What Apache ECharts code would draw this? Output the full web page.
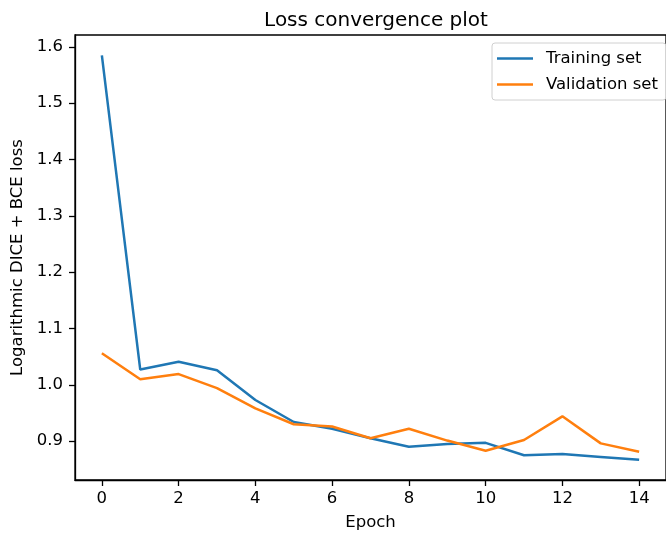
<!DOCTYPE html>
<html>
<head>
<meta charset="utf-8">
<script src="https://cdn.jsdelivr.net/npm/echarts@6/dist/echarts.min.js"></script>
<style>
  html, body { margin: 0; padding: 0; background: #fff; }
  #main { width: 666px; height: 536px; }
</style>
</head>
<body>
<div id="main"></div>
<script>
// epochs and losses
var epochs = [0, 1, 2, 3, 4, 5, 6, 7, 8, 9, 10, 11, 12, 13, 14];
var trainLoss = [1.585, 1.027, 1.041, 1.026, 0.973, 0.934, 0.922, 0.905, 0.890, 0.895, 0.897, 0.875, 0.877, 0.872, 0.867];
var valLoss = [1.056, 1.010, 1.019, 0.994, 0.958, 0.930, 0.926, 0.905, 0.922, 0.901, 0.883, 0.902, 0.944, 0.896, 0.881];
var xTicks = [0, 2, 4, 6, 8, 10, 12, 14];
var yTicks = [0.9, 1.0, 1.1, 1.2, 1.3, 1.4, 1.5, 1.6];

var font = 'DejaVu Sans';
var chart = echarts.init(document.getElementById('main'), null, { renderer: 'canvas' });

function pairs(ys) {
  var out = [];
  for (var i = 0; i < epochs.length; i++) {
    out.push([epochs[i], ys[i]]);
  }
  return out;
}

var option = {
  animation: false,
  backgroundColor: '#fff',
  textStyle: { fontFamily: font },
  title: {
    text: 'Loss convergence plot',
    left: 371,
    textAlign: 'center',
    top: 6,
    textStyle: { fontFamily: font, fontSize: 20, fontWeight: 'normal', color: '#000' }
  },
  legend: {
    orient: 'vertical',
    left: 492,
    top: 43,
    padding: [7, 8, 7, 5],
    itemGap: 9,
    itemWidth: 36,
    itemHeight: 2.5,
    icon: 'rect',
    borderColor: '#d0d0d0',
    borderWidth: 1,
    borderRadius: 3,
    backgroundColor: 'rgba(255,255,255,0.8)',
    textStyle: { fontFamily: font, fontSize: 16.5, color: '#000', padding: [0, 0, 0, 8] },
    data: ['Training set', 'Validation set']
  },
  grid: {
    left: 75,
    top: 35,
    width: 599,
    height: 446,
    show: true,
    borderColor: '#000',
    borderWidth: 1.3,
    containLabel: false
  },
  xAxis: {
    type: 'value',
    min: -0.7,
    max: 14.7,
    name: 'Epoch',
    nameLocation: 'middle',
    nameGap: 34,
    nameTextStyle: { fontFamily: font, fontSize: 16.5, color: '#000' },
    axisLine: { show: true, onZero: false, lineStyle: { color: '#000', width: 1.3 } },
    axisTick: { show: true, length: 6, customValues: xTicks, lineStyle: { color: '#000', width: 1.3 } },
    axisLabel: { margin: 10, customValues: xTicks, fontFamily: font, fontSize: 16.5, color: '#000' },
    splitLine: { show: false }
  },
  yAxis: {
    type: 'value',
    min: 0.831,
    max: 1.621,
    name: 'Logarithmic DICE + BCE loss',
    nameLocation: 'middle',
    nameGap: 42,
    nameTextStyle: { fontFamily: font, fontSize: 16.5, color: '#000' },
    axisLine: { show: true, onZero: false, lineStyle: { color: '#000', width: 1.3 } },
    axisTick: { show: true, length: 6, customValues: yTicks, lineStyle: { color: '#000', width: 1.3 } },
    axisLabel: {
      margin: 12,
      customValues: yTicks,
      fontFamily: font,
      fontSize: 16.5,
      color: '#000',
      formatter: function (v) { return v.toFixed(1); }
    },
    splitLine: { show: false }
  },
  series: [
    {
      name: 'Training set',
      type: 'line',
      data: pairs(trainLoss),
      showSymbol: false,
      color: '#1f77b4',
      lineStyle: { width: 2.5 }
    },
    {
      name: 'Validation set',
      type: 'line',
      data: pairs(valLoss),
      showSymbol: false,
      color: '#ff7f0e',
      lineStyle: { width: 2.5 }
    }
  ]
};

chart.setOption(option);
</script>
</body>
</html>
